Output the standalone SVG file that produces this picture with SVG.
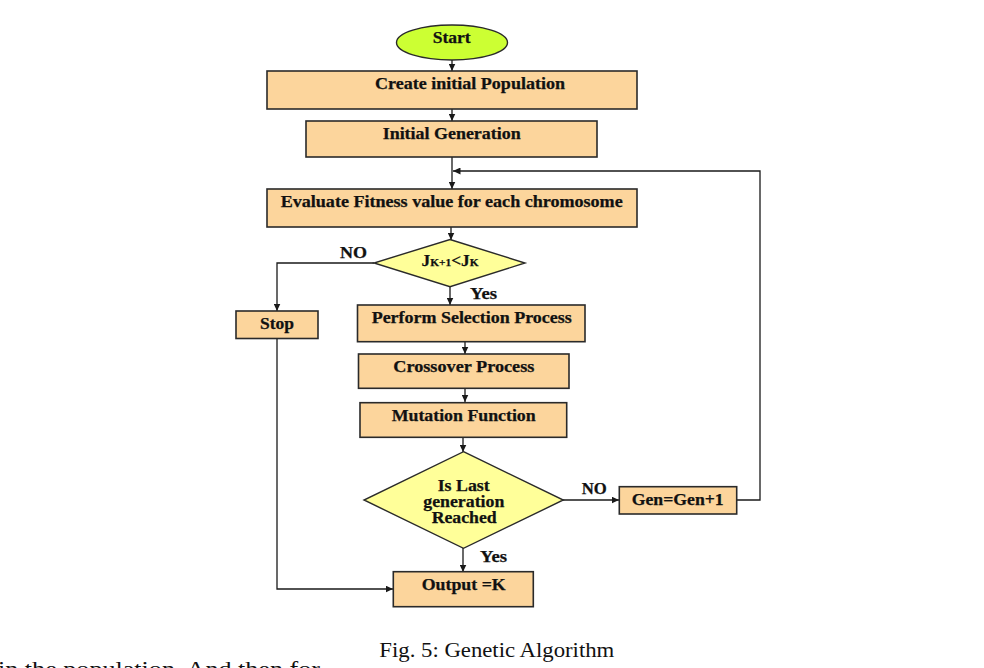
<svg xmlns="http://www.w3.org/2000/svg" width="984" height="668" viewBox="0 0 984 668">
<defs>
<marker id="arr" markerUnits="userSpaceOnUse" markerWidth="8" markerHeight="7" refX="7.5" refY="3.5" orient="auto">
<path d="M0,0 L7.5,3.5 L0,7 z" fill="#1a1a1a"/>
</marker>
<style>
.box{fill:#fcd59c;stroke:#2a2a2a;stroke-width:1.6}
.dia{fill:#ffff99;stroke:#2a2a2a;stroke-width:1.4}
.start{fill:#ccff33;stroke:#2a2a2a;stroke-width:1.4}
.t{font-family:"Liberation Serif","Times New Roman",serif;font-weight:bold;font-size:16px;fill:#111;text-anchor:start;stroke:#111;stroke-width:0.25}
.c{fill:none;stroke:#1a1a1a;stroke-width:1.3}
.a{marker-end:url(#arr)}
.cap{font-family:"Liberation Serif","Times New Roman",serif;font-size:22px;fill:#111}
</style>
</defs>
<rect width="984" height="668" fill="#ffffff"/>

<g id="connectors">
<line class="c a" x1="452" y1="60" x2="452" y2="71"/>
<line class="c a" x1="452" y1="109" x2="452" y2="121"/>
<line class="c a" x1="452" y1="157" x2="452" y2="189"/>
<polyline class="c a" points="737,500 760,500 760,171 453,171"/>
<line class="c a" x1="451" y1="227" x2="451" y2="240"/>
<polyline class="c a" points="374,263 277,263 277,311"/>
<line class="c a" x1="450" y1="287" x2="450" y2="305"/>
<line class="c a" x1="465" y1="342" x2="465" y2="354"/>
<line class="c a" x1="465" y1="388" x2="465" y2="402"/>
<line class="c a" x1="463" y1="437" x2="463" y2="452"/>
<line class="c a" x1="563" y1="500" x2="619" y2="500"/>
<line class="c a" x1="463" y1="548" x2="463" y2="572"/>
<polyline class="c a" points="277,338 277,589 393,589"/>
</g>

<g id="start">
<ellipse class="start" cx="452" cy="42.5" rx="55.5" ry="17.5"/>
<text class="t" x="432.7" y="43" textLength="38" lengthAdjust="spacingAndGlyphs">Start</text>
</g>

<g id="create">
<rect class="box" x="267" y="71" width="370" height="38"/>
<text class="t" x="375" y="89" textLength="190" lengthAdjust="spacingAndGlyphs">Create initial Population</text>
</g>

<g id="initgen">
<rect class="box" x="306" y="121" width="291" height="36"/>
<text class="t" x="382.7" y="138.5" textLength="138" lengthAdjust="spacingAndGlyphs">Initial Generation</text>
</g>

<g id="evaluate">
<rect class="box" x="267" y="189" width="370" height="38"/>
<text class="t" x="280.7" y="207.3" textLength="342" lengthAdjust="spacingAndGlyphs">Evaluate Fitness value for each chromosome</text>
</g>

<g id="decision1">
<polygon class="dia" points="450,239.5 525,263 450,286.7 374,263"/>
<text class="t" x="421.5" y="266" textLength="57" lengthAdjust="spacingAndGlyphs">J<tspan style="font-size:10.5px">K+1</tspan>&lt;J<tspan style="font-size:10.5px">K</tspan></text>
<text class="t" x="340" y="258" textLength="27" lengthAdjust="spacingAndGlyphs">NO</text>
<text class="t" x="470" y="299.3" textLength="27" lengthAdjust="spacingAndGlyphs">Yes</text>
</g>

<g id="stop">
<rect class="box" x="236" y="311" width="82" height="27.5"/>
<text class="t" x="260" y="329.3" textLength="34" lengthAdjust="spacingAndGlyphs">Stop</text>
</g>

<g id="selection">
<rect class="box" x="357.5" y="305" width="227.5" height="36.7"/>
<text class="t" x="371.7" y="323.3" textLength="200" lengthAdjust="spacingAndGlyphs">Perform Selection Process</text>
</g>

<g id="crossover">
<rect class="box" x="358.5" y="354" width="210.5" height="34.3"/>
<text class="t" x="393.3" y="371.7" textLength="141" lengthAdjust="spacingAndGlyphs">Crossover Process</text>
</g>

<g id="mutation">
<rect class="box" x="360" y="402.7" width="206.7" height="34.6"/>
<text class="t" x="391.7" y="420.7" textLength="144" lengthAdjust="spacingAndGlyphs">Mutation Function</text>
</g>

<g id="decision2">
<polygon class="dia" points="463.5,451.7 563.3,500 463.5,548.3 364,500"/>
<text class="t" x="437.7" y="490.7" textLength="52" lengthAdjust="spacingAndGlyphs">Is Last</text>
<text class="t" x="423.3" y="506.7" textLength="81" lengthAdjust="spacingAndGlyphs">generation</text>
<text class="t" x="431.7" y="522.7" textLength="65" lengthAdjust="spacingAndGlyphs">Reached</text>
<text class="t" x="581.7" y="494.3" textLength="25" lengthAdjust="spacingAndGlyphs">NO</text>
<text class="t" x="480" y="561.7" textLength="27" lengthAdjust="spacingAndGlyphs">Yes</text>
</g>

<g id="gen">
<rect class="box" x="619.3" y="486.7" width="117.4" height="27.3"/>
<text class="t" x="631.7" y="505" textLength="92" lengthAdjust="spacingAndGlyphs">Gen=Gen+1</text>
</g>

<g id="output">
<rect class="box" x="393.3" y="571.7" width="140" height="35"/>
<text class="t" x="421.7" y="590" textLength="84" lengthAdjust="spacingAndGlyphs">Output =K</text>
</g>

<text class="cap" x="379.3" y="656.7" textLength="235" lengthAdjust="spacingAndGlyphs">Fig. 5: Genetic Algorithm</text>
<text class="cap" x="-2" y="676" style="font-size:20px" textLength="322" lengthAdjust="spacingAndGlyphs">in the population. And then for</text>
</svg>
